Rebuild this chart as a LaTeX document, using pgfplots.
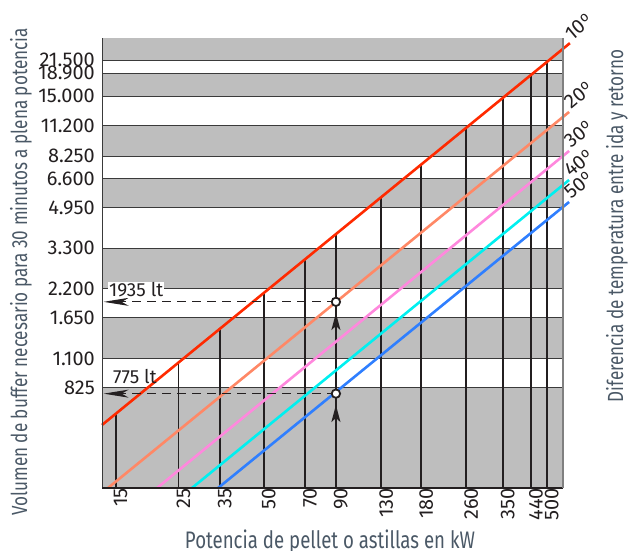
\documentclass[border=0pt]{standalone}
\usepackage{pgfplots}
\pgfplotsset{compat=1.18}
\usetikzlibrary{arrows.meta}
\usepackage{fontspec}
\setmainfont{Fira Sans}
\newfontfamily\condfont{Fira Sans}[FakeStretch=0.78]
\definecolor{bandgray}{HTML}{BEBEBE}
\definecolor{gridline}{HTML}{3A3A3A}
\definecolor{vline}{HTML}{231F20}
\definecolor{labelcol}{HTML}{4A5866}
\definecolor{c10}{HTML}{FF2A00}
\definecolor{c20}{HTML}{FF8866}
\definecolor{c30}{HTML}{FF88DD}
\definecolor{c40}{HTML}{00F0F0}
\definecolor{c50}{HTML}{2F7FFF}
\newcommand{\grados}[1]{#1\raisebox{0.3em}{\fontsize{14}{14}\selectfont o}}
\tikzset{deglabel/.style={anchor=base west, rotate=40, inner sep=0pt, xshift=3bp,
  font=\fontsize{20}{20}\selectfont, text=vline}}

\begin{document}
\begin{tikzpicture}[x=1bp,y=1bp]
\useasboundingbox (0,0) rectangle (630,551);
\begin{axis}[
  at={(102bp,63bp)}, anchor=south west,
  scale only axis, width=461bp, height=450bp,
  xmode=log, ymode=log,
  xmin=13.42, xmax=571, ymin=302.6, ymax=26840,
  clip=false,
  axis line style={draw=none},
  major tick length=0pt, minor tick num=0,
  xtick={15,25,35,50,70,90,130,180,260,350,440,500},
  xticklabels={15,25,35,50,70,90,130,180,260,350,440,500},
  ytick={825,1100,1650,2200,3300,4950,6600,8250,11200,15000,18900,21500},
  yticklabels={825,1.100,1.650,2.200,3.300,4.950,6.600,8.250,11.200,15.000,18.900,21.500},
  ticklabel style={font=\fontsize{20}{20}\selectfont, text=vline},
  xticklabel style={rotate=90, anchor=east, inner sep=0pt, yshift=-5bp},
  yticklabel style={anchor=east, inner sep=0pt, xshift=-7bp},
]

% alternating gray bands between the tick levels
\addplot[draw=none, fill=bandgray] coordinates {(13.42,21500)(571,21500)(571,26840)(13.42,26840)} -- cycle;
\addplot[draw=none, fill=bandgray] coordinates {(13.42,15000)(571,15000)(571,18900)(13.42,18900)} -- cycle;
\addplot[draw=none, fill=bandgray] coordinates {(13.42,8250)(571,8250)(571,11200)(13.42,11200)} -- cycle;
\addplot[draw=none, fill=bandgray] coordinates {(13.42,4950)(571,4950)(571,6600)(13.42,6600)} -- cycle;
\addplot[draw=none, fill=bandgray] coordinates {(13.42,2200)(571,2200)(571,3300)(13.42,3300)} -- cycle;
\addplot[draw=none, fill=bandgray] coordinates {(13.42,1100)(571,1100)(571,1650)(13.42,1650)} -- cycle;
\addplot[draw=none, fill=bandgray] coordinates {(13.42,302.6)(571,302.6)(571,825)(13.42,825)} -- cycle;

% horizontal rules
\pgfplotsinvokeforeach{825,1100,1650,2200,3300,4950,6600,8250,11200,15000,18900,21500}{
  \addplot[gridline, line width=1bp] coordinates {(13.42,#1)(571,#1)};
}

% vertical lines up to the 10 degree line
\addplot[vline, line width=1.8bp] coordinates {(15,302.6)(15,633)};
\addplot[vline, line width=1.8bp] coordinates {(25,302.6)(25,1055)};
\addplot[vline, line width=1.8bp] coordinates {(35,302.6)(35,1477)};
\addplot[vline, line width=1.8bp] coordinates {(50,302.6)(50,2110)};
\addplot[vline, line width=1.8bp] coordinates {(70,302.6)(70,2954)};
\addplot[vline, line width=1.8bp] coordinates {(90,302.6)(90,3798)};
\addplot[vline, line width=1.8bp] coordinates {(130,302.6)(130,5486)};
\addplot[vline, line width=1.8bp] coordinates {(180,302.6)(180,7596)};
\addplot[vline, line width=1.8bp] coordinates {(260,302.6)(260,10970)};
\addplot[vline, line width=1.8bp] coordinates {(350,302.6)(350,14770)};
\addplot[vline, line width=1.8bp] coordinates {(440,302.6)(440,18570)};
\addplot[vline, line width=1.8bp] coordinates {(500,302.6)(500,21100)};

% temperature difference lines
\addplot[c10, line width=2.6bp] coordinates {(13.42,567)(604,25490)};
\addplot[c20, line width=2.6bp] coordinates {(14.09,302.6)(600,12840)};
\addplot[c30, line width=2.6bp] coordinates {(21.0,302.6)(600,8704)};
\addplot[c40, line width=2.6bp] coordinates {(27.9,302.6)(600,6518)};
\addplot[c50, line width=2.6bp] coordinates {(34.5,302.6)(600,5235)};

\node[deglabel] at (axis cs:604,25490) {\grados{10}};
\node[deglabel] at (axis cs:600,12840) {\grados{20}};
\node[deglabel] at (axis cs:600,8704) {\grados{30}};
\node[deglabel] at (axis cs:600,6518) {\grados{40}};
\node[deglabel] at (axis cs:600,5235) {\grados{50}};

% reading examples at 90 kW
\addplot[vline, line width=1bp, dash pattern=on 9bp off 6bp, -{Stealth[length=25bp,width=8bp,inset=7bp]}] coordinates {(90,1935)(13.6,1935)};
\addplot[vline, line width=1bp, dash pattern=on 9bp off 6bp, -{Stealth[length=25bp,width=8bp,inset=7bp]}] coordinates {(90,775)(13.6,775)};
\addplot[vline, line width=1.8bp, -{Stealth[length=17bp,width=9bp,inset=4bp]}] coordinates {(90,1400)(90,1731)};
\addplot[vline, line width=1.8bp, -{Stealth[length=17bp,width=9bp,inset=4bp]}] coordinates {(90,560)(90,692)};
\addplot[only marks, mark=*, mark size=4.2bp, mark options={fill=white, draw=vline, line width=1.8bp}] coordinates {(90,1935)(90,775)};

\node[anchor=base west, fill=white, inner sep=1bp, xshift=6bp, yshift=5bp, font=\fontsize{19}{19}\selectfont, text=vline] at (axis cs:13.42,1935) {1935 lt};
\node[anchor=base west, inner sep=1bp, xshift=10bp, yshift=10bp, font=\fontsize{19}{19}\selectfont, text=vline] at (axis cs:13.42,775) {775 lt};

\end{axis}
% frame
\draw[gridline, line width=1bp] (102,63) -- (102,513);
\draw[vline, line width=1.5bp] (102,63) -- (563,63);
\draw[gray, line width=1.8bp] (563,63) -- (563,513);

\node[rotate=90, font=\condfont\fontsize{22}{22}\selectfont, text=labelcol] at (21,279) {Volumen de buffer necesario para 30 minutos a plena potencia};
\node[rotate=90, font=\condfont\fontsize{22}{22}\selectfont, text=labelcol] at (617,325) {Diferencia de temperatura entre ida y retorno};
\node[anchor=base, font=\condfont\fontsize{24}{24}\selectfont, text=labelcol] at (330,2) {Potencia de pellet o astillas en kW};
\end{tikzpicture}
\end{document}
